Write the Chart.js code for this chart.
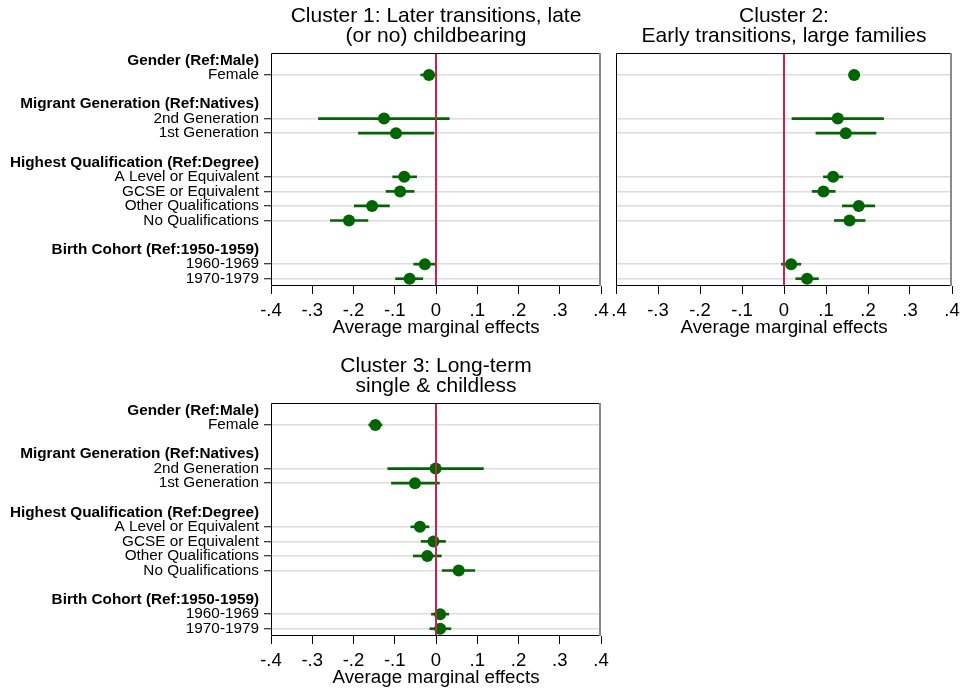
<!DOCTYPE html>
<html>
<head>
<meta charset="utf-8">
<script src="https://cdn.jsdelivr.net/npm/chart.js@4.4.1/dist/chart.umd.min.js"></script>
<style>
  html, body { margin: 0; padding: 0; background: #fff; }
  body { width: 966px; height: 690px; position: relative; overflow: hidden; }
  .panel { position: absolute; }
</style>
</head>
<body>
<div class="panel" id="p2" style="left:600px;top:0px;width:366px;height:345px;z-index:1;"><canvas id="c2"></canvas></div>
<div class="panel" id="p1" style="left:0px;top:0px;width:611px;height:345px;z-index:2;background:#fff;"><canvas id="c1"></canvas></div>
<div class="panel" id="p3" style="left:0px;top:350px;width:611px;height:345px;z-index:2;"><canvas id="c3"></canvas></div>
<script>
// ---- Data ----
const rowLabels = [
  'Gender (Ref:Male)', 'Female', '',
  'Migrant Generation (Ref:Natives)', '2nd Generation', '1st Generation', '',
  'Highest Qualification (Ref:Degree)', 'A Level or Equivalent', 'GCSE or Equivalent', 'Other Qualifications', 'No Qualifications', '',
  'Birth Cohort (Ref:1950-1959)', '1960-1969', '1970-1979'
];
const headerRows = [0, 3, 7, 13];
const dataRows = [1, 4, 5, 8, 9, 10, 11, 14, 15];

const cluster1Titles = ['Cluster 1: Later transitions, late', '(or no) childbearing'];
const cluster2Titles = ['Cluster 2:', 'Early transitions, large families'];
const cluster3Titles = ['Cluster 3: Long-term', 'single & childless'];

const cluster1Est   = [null, -0.017, null, null, -0.126, -0.097, null, null, -0.077, -0.087, -0.155, -0.211, null, null, -0.027, -0.064];
const cluster1Lower = [null, -0.037, null, null, -0.285, -0.188, null, null, -0.105, -0.121, -0.198, -0.256, null, null, -0.054, -0.098];
const cluster1Upper = [null,  0.002, null, null,  0.032, -0.005, null, null, -0.047, -0.053, -0.113, -0.165, null, null,  0.001, -0.032];

const cluster2Est   = [null, 0.167, null, null, 0.128, 0.147, null, null, 0.117, 0.094, 0.178, 0.156, null, null, 0.017, 0.055];
const cluster2Lower = [null, 0.155, null, null, 0.019, 0.076, null, null, 0.094, 0.067, 0.139, 0.120, null, null, -0.006, 0.028];
const cluster2Upper = [null, 0.178, null, null, 0.237, 0.219, null, null, 0.140, 0.122, 0.216, 0.193, null, null, 0.040, 0.082];

const cluster3Est   = [null, -0.147, null, null, -0.001, -0.051, null, null, -0.039, -0.006, -0.021, 0.055, null, null, 0.010, 0.010];
const cluster3Lower = [null, -0.163, null, null, -0.117, -0.108, null, null, -0.061, -0.036, -0.055, 0.015, null, null, -0.011, -0.015];
const cluster3Upper = [null, -0.131, null, null,  0.115,  0.008, null, null, -0.017,  0.023,  0.013, 0.094, null, null,  0.031,  0.036];

const xMin = -0.4, xMax = 0.4, xStep = 0.1;
const xTitle = 'Average marginal effects';
const refLineValue = 0;

// ---- Styles ----
const GREEN = '#006400';
const RED = '#cc1f52';
const GRID = '#dcdcdc';
const SANS = '"Liberation Sans", Arial, sans-serif';

const refLinePlugin = {
  id: 'refLine',
  afterDatasetsDraw(chart) {
    const {ctx, chartArea, scales} = chart;
    const x = scales.x.getPixelForValue(refLineValue);
    ctx.save();
    ctx.strokeStyle = RED;
    ctx.lineWidth = 2;
    ctx.beginPath();
    ctx.moveTo(x, chartArea.top);
    ctx.lineTo(x, chartArea.bottom);
    ctx.stroke();
    ctx.restore();
  }
};

const framePlugin = {
  id: 'frame',
  afterDraw(chart) {
    const {ctx, chartArea: a} = chart;
    const L = Math.round(a.left), R = Math.round(a.right), T = Math.round(a.top), B = Math.round(a.bottom);
    ctx.save();
    ctx.lineWidth = 1;
    ctx.strokeStyle = '#000';
    ctx.beginPath();
    ctx.moveTo(R - 0.5, T + 0.5);
    ctx.lineTo(L + 0.5, T + 0.5);
    ctx.lineTo(L + 0.5, B - 0.5);
    ctx.lineTo(R - 0.5, B - 0.5);
    ctx.stroke();
    ctx.strokeStyle = '#8a8a8a';
    ctx.lineWidth = 2;
    ctx.beginPath();
    ctx.moveTo(R - 1, T);
    ctx.lineTo(R - 1, B);
    ctx.stroke();
    ctx.restore();
  }
};

function fmtTick(v) {
  const r = Math.round(v * 10) / 10;
  if (r === 0) return '0';
  return (r < 0 ? '-' : '') + String(Math.abs(r)).replace(/^0/, '');
}

function makeChart(id, titles, est, lo, hi, opts) {
  const ranges = lo.map((l, i) => (l === null ? null : [l, hi[i]]));
  return new Chart(document.getElementById(id), {
    type: 'bar',
    data: {
      labels: rowLabels,
      datasets: [
        {
          type: 'line',
          data: est,
          showLine: false,
          pointRadius: 6,
          pointHoverRadius: 6,
          pointBackgroundColor: GREEN,
          pointBorderWidth: 0,
          borderColor: GREEN,
          order: 0
        },
        {
          type: 'bar',
          data: ranges,
          backgroundColor: GREEN,
          borderWidth: 0,
          barThickness: 2,
          order: 1
        }
      ]
    },
    options: {
      indexAxis: 'y',
      responsive: true,
      maintainAspectRatio: false,
      animation: false,
      events: [],
      layout: { padding: { left: 0, right: opts.padRight, top: 0, bottom: 0 } },
      plugins: {
        legend: { display: false },
        tooltip: { enabled: false },
        title: {
          display: true,
          text: titles,
          fullSize: false,
          color: '#000',
          font: { family: SANS, size: 21, weight: 'normal', lineHeight: 0.955 },
          padding: { top: 6, bottom: 7 }
        }
      },
      scales: {
        y: {
          type: 'category',
          offset: true,
          afterFit(s) { s.width = opts.yWidth; },
          border: { display: false },
          grid: {
            offset: false,
            drawOnChartArea: true,
            lineWidth: 1.5,
            color: (c) => (dataRows.includes(c.index) ? GRID : 'rgba(0,0,0,0)'),
            tickColor: (c) => (opts.showLabels && dataRows.includes(c.index) ? '#000' : 'rgba(0,0,0,0)'),
            tickWidth: 1,
            tickLength: 7
          },
          ticks: {
            display: true,
            autoSkip: false,
            padding: 5,
            color: '#000',
            callback: (v, i) => (opts.showLabels ? rowLabels[i] : ''),
            font: (c) => ({
              family: SANS,
              size: 15.3,
              weight: headerRows.includes(c.index) ? 'bold' : 'normal'
            })
          }
        },
        x: {
          type: 'linear',
          min: xMin,
          max: xMax,
          afterFit(s) { s.height = 59; s.paddingLeft = 0; s.paddingRight = 0; },
          border: { display: false },
          grid: {
            drawOnChartArea: false,
            drawTicks: true,
            tickLength: 8,
            tickColor: '#000',
            tickWidth: 1
          },
          ticks: {
            stepSize: xStep,
            padding: 6,
            color: '#000',
            font: { family: SANS, size: 18.5 },
            maxRotation: 0,
            callback: (v) => fmtTick(v)
          },
          title: {
            display: true,
            text: xTitle,
            color: '#000',
            font: { family: SANS, size: 18.8 },
            padding: { top: 0, bottom: 6 }
          }
        }
      }
    },
    plugins: [refLinePlugin, framePlugin]
  });
}

makeChart('c1', cluster1Titles, cluster1Est, cluster1Lower, cluster1Upper, { yWidth: 271, padRight: 10, showLabels: true });
makeChart('c2', cluster2Titles, cluster2Est, cluster2Lower, cluster2Upper, { yWidth: 16, padRight: 14, showLabels: false });
makeChart('c3', cluster3Titles, cluster3Est, cluster3Lower, cluster3Upper, { yWidth: 271, padRight: 10, showLabels: true });
</script>
</body>
</html>
